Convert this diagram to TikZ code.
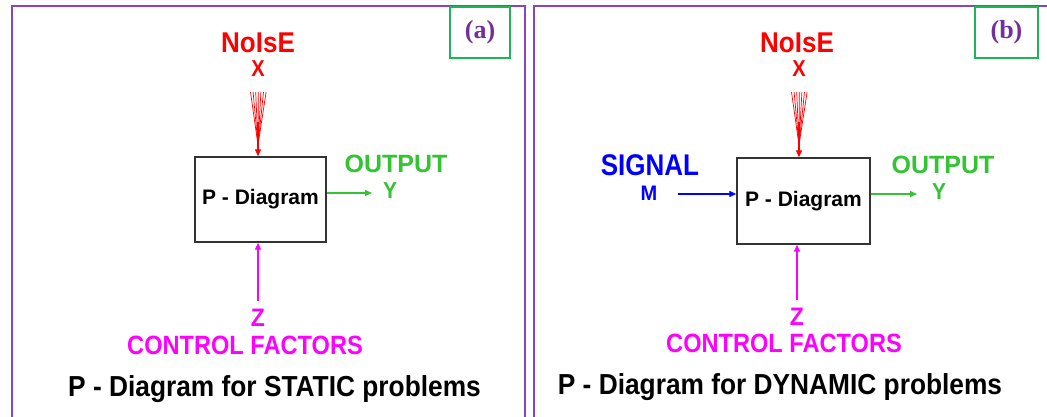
\documentclass[tikz,border=0pt]{standalone}
\usepackage{fontspec}
\setmainfont{Liberation Sans}
\newfontfamily\lblserif{Liberation Serif}
\usetikzlibrary{arrows.meta,calc}
\definecolor{panelpurple}{HTML}{8446C4}
\definecolor{lblpurple}{HTML}{7030A0}
\definecolor{boxgreen}{HTML}{1FB35A}
\definecolor{outgreen}{HTML}{33C433}
\definecolor{noisered}{HTML}{FF0000}
\definecolor{sigblue}{HTML}{0000FF}
\definecolor{ctrlmag}{HTML}{FF00FF}
\newcommand{\vst}[2]{\scalebox{1}[#1]{#2}}
\newcommand{\fs}[1]{\fontsize{#1}{#1}\selectfont\bfseries}
\tikzset{
  panel/.style={draw=panelpurple,line width=2pt},
  tagbox/.style={draw=boxgreen,line width=1.6pt,minimum width=60pt,minimum height=51pt,inner sep=0pt,text=lblpurple,font=\lblserif\fs{26}},
  pbox/.style={draw=black!80,line width=1.4pt,minimum width=131pt,minimum height=85pt,inner sep=0pt,font=\fs{21}},
  txt/.style={inner sep=0pt,anchor=center},
  conn/.style={line width=1.3pt,-{Triangle[length=7pt,width=6pt]}},
  fan/.style={noisered,line width=0.7pt},
}
\begin{document}
\begin{tikzpicture}[x=1pt,y=-1pt]
\useasboundingbox (0,0) rectangle (1047,417);
\fill[white] (0,0) rectangle (1047,417);
\clip (0,0) rectangle (1047,417);
% panels
\draw[panel] (12,440) -- (12,6) -- (525,6) -- (525,440);
\draw[panel] (534,440) -- (534,6) -- (1070,6);
% tags
\node[tagbox] (taga) at (480,32.5) {(a)};
\node[tagbox,minimum width=63pt] (tagb) at (1006.5,32.5) {(b)};

% ===== Panel (a) =====
\node[pbox] (pa) at (260.5,199.5) {P - Diagram};
\node[txt,text=noisered,font=\fs{26}] (na) at (258,43) {\vst{1.1}{NoIsE}};
\node[txt,text=noisered,font=\fs{20}] (xa) at (258,69) {\vst{1.15}{X}};
\coordinate (fa) at (258,145);
\foreach \i in {0,...,6} {
  \draw[fan] (250.5+\i*2.6,92) -- (fa);
}
\draw[noisered,line width=1.6pt] (258,122) -- (fa);
\draw[conn,noisered] (fa) -- (fa |- pa.north);
\node[txt,text=outgreen,font=\fs{25}] (oa) at (396,164) {OUTPUT};
\node[txt,text=outgreen,font=\fs{21}] (ya) at (390,191) {\vst{1.1}{Y}};
\coordinate (oae) at (372,193);
\draw[conn,outgreen] (pa.east |- oae) -- (oae);
\node[txt,text=ctrlmag,font=\fs{23}] (za) at (258,318) {\vst{1.1}{Z}};
\node[txt,text=ctrlmag,font=\fs{23.6}] (ca) at (245,345) {\vst{1.12}{CONTROL FACTORS}};
\coordinate (cas) at (258,301);
\draw[conn,ctrlmag] (cas) -- (cas |- pa.south);
\node[txt,font=\fs{26.3}] (capa) at (274.5,389) {\vst{1.1}{P - Diagram for STATIC problems}};

% ===== Panel (b) =====
\node[pbox,minimum width=133pt,minimum height=86pt] (pb) at (803.5,201) {P - Diagram};
\node[txt,text=noisered,font=\fs{26}] (nb) at (797,43) {\vst{1.1}{NoIsE}};
\node[txt,text=noisered,font=\fs{20}] (xb) at (799,69) {\vst{1.15}{X}};
\coordinate (fb) at (799,145);
\foreach \i in {0,...,6} {
  \draw[fan] (791.5+\i*2.6,92) -- (fb);
}
\draw[noisered,line width=1.6pt] (799,122) -- (fb);
\draw[conn,noisered] (fb) -- (fb |- pb.north);
\node[txt,text=sigblue,font=\fs{26}] (sb) at (650,165) {\vst{1.15}{SIGNAL}};
\node[txt,text=sigblue,font=\fs{20}] (mb) at (649,193) {\vst{1.05}{M}};
\coordinate (sbs) at (678,194);
\draw[conn,sigblue] (sbs) -- (sbs -| pb.west);
\node[txt,text=outgreen,font=\fs{25}] (ob) at (943,165) {OUTPUT};
\node[txt,text=outgreen,font=\fs{21}] (yb) at (939,192) {\vst{1.1}{Y}};
\coordinate (obe) at (917,194);
\draw[conn,outgreen] (pb.east |- obe) -- (obe);
\node[txt,text=ctrlmag,font=\fs{23}] (zb) at (797,317) {\vst{1.1}{Z}};
\node[txt,text=ctrlmag,font=\fs{23.6}] (cb) at (784,343) {\vst{1.12}{CONTROL FACTORS}};
\coordinate (cbs) at (797,300);
\draw[conn,ctrlmag] (cbs) -- (cbs |- pb.south);
\node[txt,font=\fs{26.3}] (capb) at (780,387) {\vst{1.1}{P - Diagram for DYNAMIC problems}};
\end{tikzpicture}
\end{document}
